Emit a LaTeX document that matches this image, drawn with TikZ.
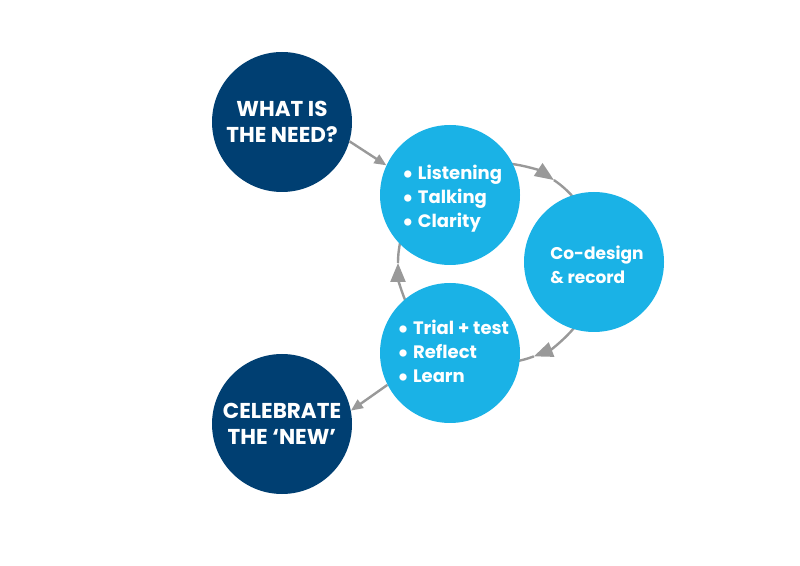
\documentclass[tikz,border=0pt]{standalone}
\usepackage{fontspec}
\setmainfont{Poppins}
\usetikzlibrary{arrows.meta,calc}
\definecolor{navy}{RGB}{0,63,114}
\definecolor{sky}{RGB}{26,178,230}
\definecolor{arrowgray}{RGB}{153,153,153}
\newcommand\bigbul{\raisebox{-2.6pt}{\fontsize{24}{24}\selectfont•}\hspace{4pt}}
\tikzset{
  darkc/.style={circle, fill=navy, minimum size=140pt, inner sep=0pt, text=white, font=\bfseries\fontsize{21.5}{26}\selectfont, align=center},
  lightc/.style={circle, fill=sky, minimum size=140pt, inner sep=0pt, text=white, font=\bfseries\fontsize{18}{24}\selectfont, align=left},
  conn/.style={draw=arrowgray, line width=2.4pt},
  bigtip/.style={-{Triangle[length=19pt,width=15pt]}},
  smalltip/.style={-{Triangle[length=12pt,width=10pt]}}
}
\begin{document}
\begin{tikzpicture}[x=1pt,y=1pt]
\useasboundingbox (0,0) rectangle (800,565);
\coordinate (O) at (498,302);
% arcs
\draw[conn,bigtip] ($(O)+(85:100pt)$) arc[start angle=85, end angle=56, radius=100pt];
\draw[conn] ($(O)+(56:100pt)$) arc[start angle=56, end angle=36, radius=100pt];
\draw[conn,bigtip] ($(O)+(-38:100pt)$) arc[start angle=-38, end angle=-69, radius=100pt];
\draw[conn] ($(O)+(-69:100pt)$) arc[start angle=-69, end angle=-84, radius=100pt];
\draw[conn,bigtip] ($(O)+(205:100pt)$) arc[start angle=205, end angle=180, radius=100pt];
\draw[conn] ($(O)+(180:100pt)$) arc[start angle=180, end angle=165, radius=100pt];
% circles
\node[darkc] (D1) at (282,443) {WHAT IS\\THE NEED?};
\node[darkc] (D2) at (282,141) {CELEBRATE\\THE ‘NEW’};
\node[lightc] (A) at (450,370) {};
\node[lightc] (B) at (594,303) {};
\node[lightc] (C) at (450,212) {};
\node[lightc, fill=none] (At) at (452,366) {\bigbul Listening\\\bigbul Talking\\\bigbul Clarity};
\node[lightc, fill=none, font=\bfseries\fontsize{17}{24}\selectfont] (Bt) at (597,300) {Co-design\\\& record};
\node[lightc, fill=none] (Ct) at (453,212) {\bigbul Trial + test\\\bigbul Reflect\\\bigbul Learn};
% straight arrows
\draw[conn,smalltip] (D1.-16) -- (A.155);
\draw[conn,smalltip] (C.207) -- (D2.11);
\end{tikzpicture}
\end{document}
